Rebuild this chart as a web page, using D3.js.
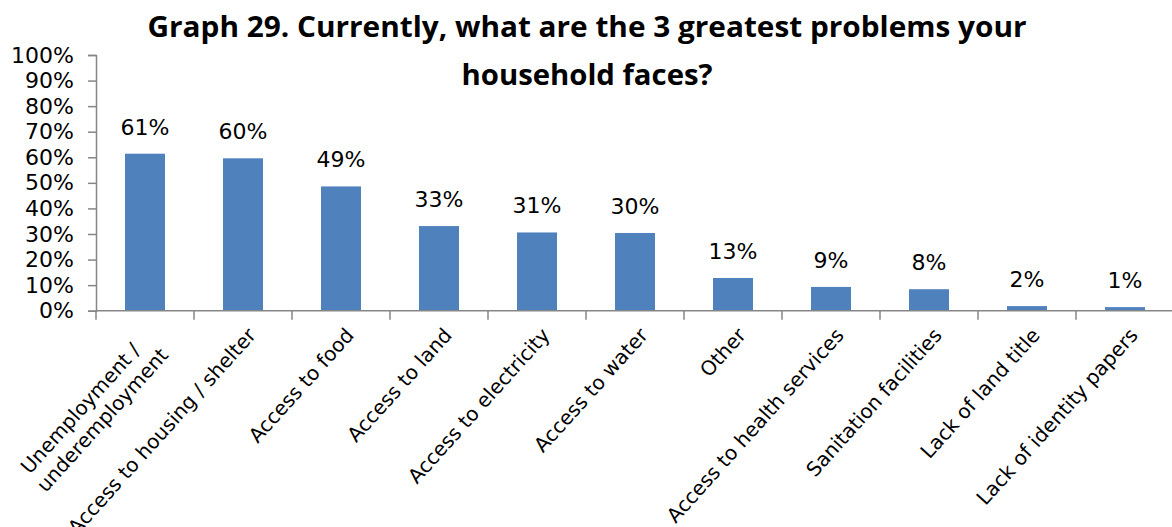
<!DOCTYPE html>
<html>
<head>
<meta charset="utf-8">
<script src="https://cdn.jsdelivr.net/npm/d3@7"></script>
<style>
  body { margin: 0; background: #fff; }
  svg { display: block; }
</style>
</head>
<body>
<script>
var width = 1172, height = 527;

// chart data
const categories = [
    ["Unemployment /", "underemployment"],
    ["Access to housing / shelter"],
    ["Access to food"],
    ["Access to land"],
    ["Access to electricity"],
    ["Access to water"],
    ["Other"],
    ["Access to health services"],
    ["Sanitation facilities"],
    ["Lack of land title"],
    ["Lack of identity papers"]
];
const values = [0.614, 0.596, 0.486, 0.331, 0.306, 0.304, 0.128, 0.093, 0.084, 0.018, 0.014];
const yTicks = [0, 0.1, 0.2, 0.3, 0.4, 0.5, 0.6, 0.7, 0.8, 0.9, 1];
const titleLines = ["Graph 29. Currently, what are the 3 greatest problems your", "household faces?"];

const barColor = "#4F81BD";
const axisColor = "#868686";
const fontFamily = "'DejaVu Sans', sans-serif";

var svg = d3.select('body').append('svg')
    .attr('width', width)
    .attr('height', height);

var keys = categories.map(function(d, i) { return i; });

var x = d3.scaleBand()
    .domain(keys)
    .range([96, 1174])
    .paddingInner(0.592)
    .paddingOuter(0.296);

var y = d3.scaleLinear()
    .domain([0, 1])
    .range([310.7, 55]);

// title, squeezed to the measured widths
const titleWidths = [879, 251];
const titleBase = [37, 85];
svg.append('g').selectAll('text')
    .data(titleLines)
    .join('text')
    .attr('x', 587)
    .attr('y', function(d, i) { return titleBase[i]; })
    .attr('text-anchor', 'middle')
    .attr('textLength', function(d, i) { return titleWidths[i]; })
    .attr('lengthAdjust', 'spacingAndGlyphs')
    .style('font-family', "'Open Sans', sans-serif")
    .style('font-weight', 'bold')
    .style('font-size', '29px')
    .text(function(d) { return d; });

// y axis
var gy = svg.append('g')
    .attr('transform', 'translate(96,0)')
    .call(d3.axisLeft(y)
        .tickValues(yTicks)
        .tickFormat(d3.format('.0%'))
        .tickSize(8)
        .tickPadding(14));
gy.select('.domain').attr('stroke', axisColor).attr('stroke-width', 1.5);
gy.selectAll('.tick line').attr('stroke', axisColor).attr('stroke-width', 1.5);
gy.selectAll('.tick text')
    .attr('fill', '#000')
    .style('font-family', fontFamily)
    .style('font-size', '22px');

// bars
svg.append('g').selectAll('rect')
    .data(values)
    .join('rect')
    .attr('x', function(d, i) { return x(i); })
    .attr('y', function(d) { return y(d); })
    .attr('width', x.bandwidth())
    .attr('height', function(d) { return y(0) - y(d); })
    .attr('fill', barColor);

// value labels
svg.append('g').selectAll('text')
    .data(values)
    .join('text')
    .attr('x', function(d, i) { return x(i) + x.bandwidth() / 2; })
    .attr('y', function(d) { return y(d) - 19; })
    .attr('text-anchor', 'middle')
    .style('font-family', fontFamily)
    .style('font-size', '22px')
    .text(function(d) { return d3.format('.0%')(d); });

// x axis line + category ticks
var gap = (x.step() - x.bandwidth()) / 2;
svg.append('line')
    .attr('x1', 96).attr('x2', width)
    .attr('y1', y(0)).attr('y2', y(0))
    .attr('stroke', axisColor).attr('stroke-width', 1.5);
svg.append('g').selectAll('line')
    .data(keys.concat([keys.length]))
    .join('line')
    .attr('x1', function(i) { return i < keys.length ? x(i) - gap : x(i - 1) + x.bandwidth() + gap; })
    .attr('x2', function(i) { return i < keys.length ? x(i) - gap : x(i - 1) + x.bandwidth() + gap; })
    .attr('y1', y(0)).attr('y2', y(0) + 9)
    .attr('stroke', axisColor).attr('stroke-width', 1.5);

// rotated category labels
var angle = -48;
var lab = svg.append('g').selectAll('text')
    .data(categories)
    .join('text')
    .attr('transform', function(d, i) {
        return 'translate(' + (x(i) + x.bandwidth() / 2 + 14) + ',336) rotate(' + angle + ')';
    })
    .attr('text-anchor', 'end')
    .style('font-family', fontFamily)
    .style('font-size', '20px');

lab.each(function(lines) {
    var t = d3.select(this);
    if (lines.length === 1) {
        t.append('tspan').attr('x', 0).attr('y', 0).text(lines[0]);
        return;
    }
    // two-line label: second line sits lower and further out
    t.append('tspan').attr('x', -23).attr('y', -3).text(lines[0]);
    t.append('tspan').attr('x', -8).attr('y', 21).text(lines[1]);
});
</script>
</body>
</html>
